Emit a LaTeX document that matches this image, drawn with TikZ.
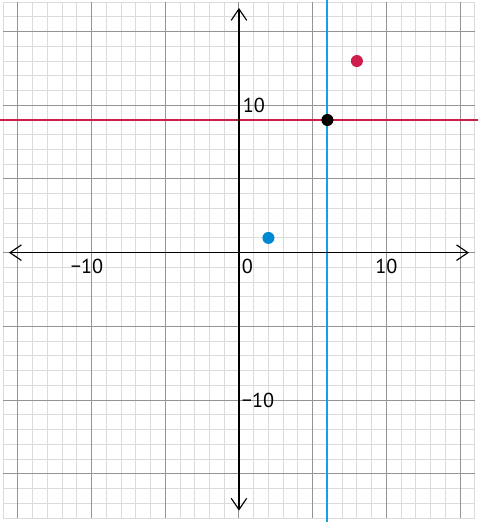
\documentclass[tikz,border=0pt]{standalone}
\usepackage{fontspec}
\setmainfont{PT Sans}
\usetikzlibrary{arrows.meta}
\definecolor{crimson}{RGB}{205,30,78}
\definecolor{vblue}{RGB}{20,160,230}
\definecolor{dotblue}{RGB}{0,136,210}
\begin{document}
\begin{tikzpicture}[x=0.5cm, y=0.5cm, font=\fontsize{19.5}{22}\selectfont, line join=round, >={Straight Barb[length=11pt,width=15pt,line width=1.1pt]}]
			\def\xl{-16}
			\def\xr{16}
			\def\yd{-18}
			\def\yt{17}
			\def\rdot{5.8pt}
			\def\hw{0.068}
			\useasboundingbox (-16.21,-18.27) rectangle (16.21,17.14);
			\begin{scope}
				\draw[step=1, black!14, line width=0.9pt] (\xl,\yd) grid (\xr,\yt);
				\draw[step=5, black!42, line width=1pt] (\xl,\yd) grid (\xr,\yt);
			\end{scope}
			\fill[vblue] (6-\hw,-18.27) rectangle (6+\hw,17.14);
			\fill[crimson] (-16.21,9-\hw) rectangle (16.21,9+\hw);
			\draw[<->, line width=1.1pt] (-15.6,0) -- (15.6,0);
			\draw[<->, line width=1.1pt] (0,-17.5) -- (0,16.6);
			\node[anchor=west, inner sep=0pt] (yten) at (0.25,10) {10};
			\node[anchor=west, inner sep=0pt] (ymten) at (0.18,-10) {−10};
			\node[anchor=north west, inner sep=0pt] (orig) at (0.18,-0.43) {0};
			\node[anchor=north, inner sep=0pt] (xten) at (10,-0.43) {10};
			\node[anchor=north east, inner sep=0pt] (xmten) at (-9.2,-0.43) {−10};
			\fill[dotblue] (2,1) circle (\rdot);
			\fill[crimson] (8,13) circle (\rdot);
			\fill (6,9) circle (\rdot);
		\end{tikzpicture}
\end{document}
